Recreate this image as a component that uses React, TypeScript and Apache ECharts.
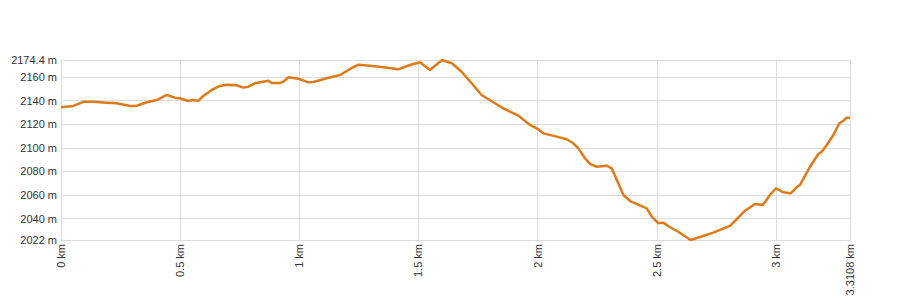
import React, { useEffect, useRef } from "react";
import * as echarts from "echarts";

const distanceKm = [
  0, 0.052, 0.094, 0.136, 0.192, 0.234, 0.29, 0.318, 0.36, 0.402, 0.444, 0.478,
  0.499, 0.534, 0.555, 0.576, 0.597, 0.632, 0.667, 0.695, 0.737, 0.765, 0.786,
  0.814, 0.87, 0.884, 0.919, 0.933, 0.954, 0.996, 1.038, 1.059, 1.115, 1.171,
  1.213, 1.248, 1.297, 1.353, 1.415, 1.464, 1.506, 1.548, 1.599, 1.64, 1.681,
  1.723, 1.765, 1.814, 1.856, 1.884, 1.919, 1.968, 1.996, 2.024, 2.08, 2.122,
  2.15, 2.171, 2.199, 2.22, 2.248, 2.29, 2.311, 2.36, 2.388, 2.458, 2.479,
  2.507, 2.527, 2.556, 2.59, 2.642, 2.737, 2.807, 2.835, 2.87, 2.912, 2.945,
  2.975, 3.0, 3.031, 3.062, 3.087, 3.101, 3.143, 3.178, 3.192, 3.213, 3.241,
  3.266, 3.283, 3.297, 3.3108,
];

const elevationM = [
  2134.4, 2135.5, 2139, 2139, 2138.3, 2137.7, 2135.5, 2135.7, 2138.6, 2140.5,
  2144.8, 2142.5, 2142, 2139.7, 2140.5, 2139.7, 2144, 2149, 2152.4, 2153.5,
  2153, 2151, 2151.8, 2154.7, 2156.9, 2155, 2155, 2156, 2159.8, 2158.6, 2155.5,
  2155.8, 2158.9, 2161.7, 2166.8, 2170.4, 2169.6, 2168.2, 2166.5, 2170.2,
  2172.5, 2166, 2174.4, 2171.6, 2164.5, 2154.7, 2144.8, 2138.6, 2133.5, 2130.6,
  2127.3, 2119.4, 2116.6, 2112.3, 2109.5, 2107.3, 2103.9, 2099.6, 2091.2,
  2086.4, 2084, 2084.9, 2082.7, 2060.1, 2055, 2048.8, 2041.7, 2036.1, 2036.7,
  2032.8, 2029, 2022, 2028.2, 2033.9, 2039.5, 2046.8, 2052.5, 2051.6, 2060.1,
  2065.8, 2062.4, 2061.5, 2066.6, 2068.6, 2084, 2094.8, 2096.8, 2102.4, 2110.9,
  2120.8, 2123, 2125.6, 2125.6,
];

const xMin = 0;
const xMax = 3.3108;
const yMin = 2022;
const yMax = 2174.4;

export default function App() {
  const ref = useRef<HTMLDivElement>(null);

  useEffect(() => {
    if (!ref.current) return;
    const chart = echarts.init(ref.current, undefined, { renderer: "svg" });
    const font = 'Arial, "Liberation Sans", sans-serif';
    chart.setOption({
      animation: false,
      grid: { left: 61, right: 50, top: 60, bottom: 60, containLabel: false },
      xAxis: {
        type: "value",
        min: xMin,
        max: xMax,
        interval: 0.5,
        axisLine: { show: true, lineStyle: { color: "#dcdcdc", width: 1 } },
        axisTick: { show: false },
        splitLine: { show: true, lineStyle: { color: "#dcdcdc", width: 1 } },
        axisLabel: {
          rotate: 90,
          margin: 4,
          color: "#333",
          fontSize: 11,
          fontFamily: font,
          showMinLabel: true,
          showMaxLabel: true,
          hideOverlap: false,
          formatter: (v: number) => `${v} km`,
        },
      },
      yAxis: {
        type: "value",
        min: yMin,
        max: yMax,
        splitNumber: 8,
        axisLine: { show: false },
        axisTick: { show: false },
        splitLine: { show: true, lineStyle: { color: "#dcdcdc", width: 1 } },
        axisLabel: {
          margin: 4,
          color: "#333",
          fontSize: 11,
          fontFamily: font,
          showMinLabel: true,
          showMaxLabel: true,
          hideOverlap: false,
          formatter: (v: number) => `${v} m`,
        },
      },
      series: [
        {
          type: "line",
          data: distanceKm.map((d, i) => [d, elevationM[i]]),
          showSymbol: false,
          symbol: "none",
          lineStyle: { color: "#dd7a1a", width: 2.5 },
          silent: true,
        },
      ],
    });
    return () => chart.dispose();
  }, []);

  return (
    <div
      ref={ref}
      style={{ position: "fixed", left: 0, top: 0, width: 900, height: 300, background: "#fff" }}
    />
  );
}
